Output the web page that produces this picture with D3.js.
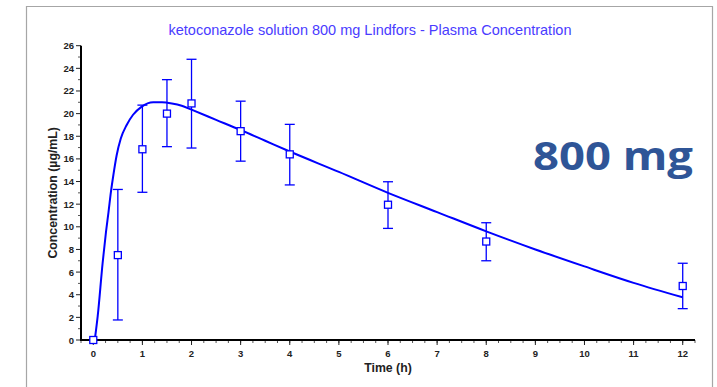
<!DOCTYPE html>
<html>
<head>
<meta charset="utf-8">
<script src="https://cdn.jsdelivr.net/npm/d3@7"></script>
<style>
  body { margin: 0; background: #fff; }
  svg { display: block; }
</style>
</head>
<body>
<div id="chart"></div>
<script>
/* DATA */
// observed means with error bars (low / high)
const obsTime = [0, 0.5, 1, 1.5, 2, 3, 4, 6, 8, 12];
const obsMean = [0, 7.5, 16.85, 20.0, 20.9, 18.45, 16.4, 11.95, 8.7, 4.77];
const obsLow  = [0, 1.77, 13.05, 17.08, 16.96, 15.8, 13.7, 9.86, 7.0, 2.77];
const obsHigh = [0, 13.3, 20.75, 23.0, 24.8, 21.1, 19.05, 13.98, 10.36, 6.78];

// fitted curve
const fitTime = [0.03, 0.09, 0.19, 0.26, 0.31, 0.36, 0.41, 0.475, 0.56, 0.68, 0.81, 0.98, 1.22, 1.4, 1.6, 1.8, 2.0, 2.5, 3.0, 3.5, 4.0, 5.0, 6.0, 7.0, 8.0, 9.0, 10.0, 11.0, 12.0];
const fitConc = [0, 2.1, 6.8, 9.6, 11.3, 13.1, 14.6, 16.3, 17.8, 19.0, 19.9, 20.6, 21.0, 21.0, 20.9, 20.7, 20.35, 19.45, 18.55, 17.6, 16.65, 14.85, 13.0, 11.3, 9.6, 8.0, 6.5, 5.05, 3.77];

const xTicks = d3.range(0, 13);
const yTicks = d3.range(0, 27, 2);

const titleText = "ketoconazole solution 800 mg Lindfors - Plasma Concentration";
const doseText = "800 mg";

/* SETUP */
const width = 717, height = 387;
const blue = "#0000ff";

const svg = d3.select("#chart").append("svg")
  .attr("width", width)
  .attr("height", height);

// gray frame (open at the bottom)
svg.append("path")
  .attr("d", "M26.5,387 V6.5 H712.5 V387")
  .attr("fill", "none")
  .attr("stroke", "#a6a6a6")
  .attr("stroke-width", 1.2);

const x = d3.scaleLinear().domain([-0.25, 12.25]).range([81, 695]);
const y = d3.scaleLinear().domain([0, 26]).range([340, 45.7]);

// title
svg.append("text")
  .attr("x", 370)
  .attr("y", 35)
  .attr("text-anchor", "middle")
  .attr("font-family", "Liberation Sans, Arial, sans-serif")
  .attr("font-size", 14.5)
  .attr("fill", "#4a3cff")
  .text(titleText);

/* AXES */
const xAxis = svg.append("g")
  .attr("transform", `translate(0,${y(0)})`);
// minor ticks every quarter hour
xAxis.selectAll("line.minor")
  .data(d3.range(-0.25, 12.26, 0.25))
  .join("line")
  .attr("x1", d => x(d)).attr("x2", d => x(d))
  .attr("y1", 0).attr("y2", 3)
  .attr("stroke", "#555");
xAxis.selectAll("line.major")
  .data(xTicks)
  .join("line")
  .attr("x1", d => x(d)).attr("x2", d => x(d))
  .attr("y1", 0).attr("y2", 5)
  .attr("stroke", "#222");
xAxis.selectAll("text")
  .data(xTicks)
  .join("text")
  .attr("x", d => x(d))
  .attr("y", 17)
  .attr("text-anchor", "middle")
  .attr("font-family", "Liberation Sans, Arial, sans-serif")
  .attr("font-size", 9.5)
  .attr("font-weight", "bold")
  .attr("fill", "#222")
  .text(d => d);

const yAxis = svg.append("g")
  .attr("transform", `translate(${x(-0.25)},0)`);
yAxis.selectAll("line.minor")
  .data(d3.range(1, 26, 2))
  .join("line")
  .attr("x1", 0).attr("x2", -3)
  .attr("y1", d => y(d)).attr("y2", d => y(d))
  .attr("stroke", "#555");
yAxis.selectAll("line.major")
  .data(yTicks)
  .join("line")
  .attr("x1", 0).attr("x2", -5)
  .attr("y1", d => y(d)).attr("y2", d => y(d))
  .attr("stroke", "#222");
yAxis.selectAll("text")
  .data(yTicks)
  .join("text")
  .attr("x", -7)
  .attr("y", d => y(d) + 3.5)
  .attr("text-anchor", "end")
  .attr("font-family", "Liberation Sans, Arial, sans-serif")
  .attr("font-size", 9.5)
  .attr("font-weight", "bold")
  .attr("fill", "#222")
  .text(d => d);

// axis lines
svg.append("line")
  .attr("x1", x(-0.25)).attr("x2", x(-0.25))
  .attr("y1", y(26)).attr("y2", y(0) + 1)
  .attr("stroke", "#000").attr("stroke-width", 2);
svg.append("line")
  .attr("x1", x(-0.25) - 1).attr("x2", x(12.25))
  .attr("y1", y(0)).attr("y2", y(0))
  .attr("stroke", "#000").attr("stroke-width", 2);

// axis titles
svg.append("text")
  .attr("x", (x(-0.25) + x(12.25)) / 2)
  .attr("y", 372)
  .attr("text-anchor", "middle")
  .attr("font-family", "Liberation Sans, Arial, sans-serif")
  .attr("font-size", 12.3)
  .attr("font-weight", "bold")
  .attr("fill", "#222")
  .text("Time (h)");

svg.append("text")
  .attr("transform", `translate(57,${(y(0) + y(26)) / 2}) rotate(-90)`)
  .attr("text-anchor", "middle")
  .attr("font-family", "Liberation Sans, Arial, sans-serif")
  .attr("font-size", 12.3)
  .attr("font-weight", "bold")
  .attr("fill", "#222")
  .text("Concentration (\u00b5g/mL)");

/* FITTED LINE */
const line = d3.line()
  .x(d => x(d[0]))
  .y(d => y(d[1]))
  .curve(d3.curveMonotoneX);

svg.append("path")
  .datum(fitTime.map((t, i) => [t, fitConc[i]]))
  .attr("d", line)
  .attr("fill", "none")
  .attr("stroke", blue)
  .attr("stroke-width", 2);

/* OBSERVED POINTS */
const obs = obsTime.map((t, i) => ({ t, m: obsMean[i], lo: obsLow[i], hi: obsHigh[i] }));
const g = svg.append("g")
  .attr("stroke", blue)
  .attr("stroke-width", 1.3)
  .attr("fill", "none");

const bars = g.selectAll("g.bar")
  .data(obs.filter(d => d.hi > d.lo))
  .join("g")
  .attr("class", "bar");
bars.append("line")
  .attr("x1", d => x(d.t)).attr("x2", d => x(d.t))
  .attr("y1", d => y(d.lo)).attr("y2", d => y(d.hi));
bars.append("line")
  .attr("x1", d => x(d.t) - 5).attr("x2", d => x(d.t) + 5)
  .attr("y1", d => y(d.lo)).attr("y2", d => y(d.lo));
bars.append("line")
  .attr("x1", d => x(d.t) - 5).attr("x2", d => x(d.t) + 5)
  .attr("y1", d => y(d.hi)).attr("y2", d => y(d.hi));

g.selectAll("rect")
  .data(obs)
  .join("rect")
  .attr("x", d => x(d.t) - 3.5)
  .attr("y", d => y(d.m) - 3.5)
  .attr("width", 7)
  .attr("height", 7)
  .attr("fill", "#fff");

/* DOSE LABEL */
svg.append("text")
  .attr("x", 533)
  .attr("y", 170)
  .attr("textLength", 160)
  .attr("lengthAdjust", "spacingAndGlyphs")
  .attr("font-family", "Open Sans, sans-serif")
  .attr("font-size", 40)
  .attr("font-weight", "bold")
  .attr("fill", "#2f5597")
  .text(doseText);
</script>
</body>
</html>
